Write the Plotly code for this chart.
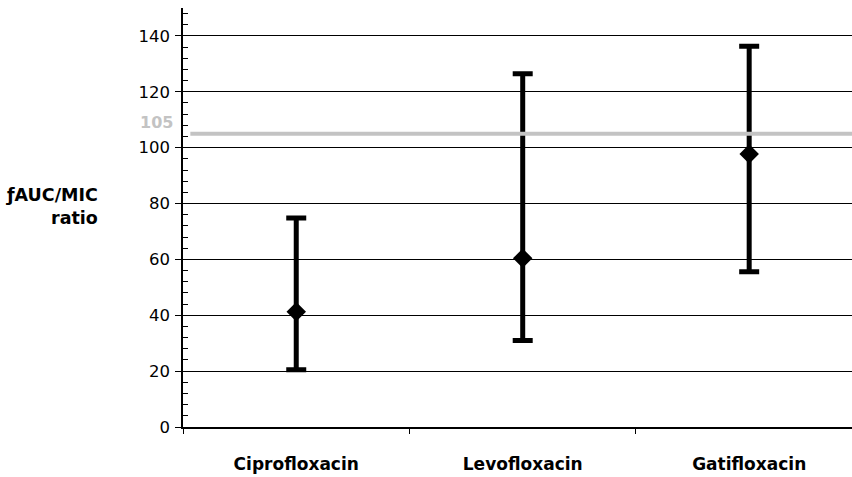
import plotly.graph_objects as go

categories = ["Ciprofloxacin", "Levofloxacin", "Gatifloxacin"]
mean_vals = [41.3, 60.4, 97.7]
upper_vals = [74.8, 126.5, 136.3]
lower_vals = [20.5, 31.0, 55.6]
target_value = 105
y_ticks = [0, 20, 40, 60, 80, 100, 120, 140]

FONT = "DejaVu Sans"

fig = go.Figure()
fig.add_trace(go.Scatter(
    x=categories, y=mean_vals, mode="markers",
    marker=dict(symbol="diamond", size=15, color="black"),
    error_y=dict(type="data", symmetric=False,
                 array=[u - m for u, m in zip(upper_vals, mean_vals)],
                 arrayminus=[m - l for m, l in zip(mean_vals, lower_vals)],
                 color="black", thickness=5, width=10),
    showlegend=False,
))

fig.add_shape(type="line", xref="paper", yref="y", x0=0.011, x1=1,
              y0=target_value, y1=target_value,
              line=dict(color="#c3c3c3", width=4), layer="above")

fig.add_annotation(xref="paper", yref="y", x=0, y=target_value,
                   text=f"<b>{target_value}</b>", showarrow=False,
                   xanchor="right", yanchor="bottom", xshift=-8, yshift=0,
                   font=dict(family=FONT, size=16, color="#c3c3c3"))

fig.add_annotation(xref="paper", yref="paper", x=0, y=0.526,
                   text="<b>ƒAUC/MIC</b><br><b>ratio</b>", showarrow=False,
                   xanchor="right", yanchor="middle", align="right", xshift=-83,
                   font=dict(family=FONT, size=17.5, color="black"))

fig.update_layout(
    width=852, height=477,
    margin=dict(l=183, r=0, t=8, b=50),
    plot_bgcolor="white", paper_bgcolor="white",
    font=dict(family=FONT, color="black"),
    xaxis=dict(
        type="category", range=[-0.5, 2.454], tickson="boundaries",
        ticks="outside", ticklen=5, tickcolor="black",
        showline=True, linecolor="black", linewidth=1.5,
        showgrid=False, zeroline=False, automargin=False,
        tickfont=dict(family=FONT, size=17, color="black"),
        ticklabelstandoff=21,
    ),
    yaxis=dict(
        range=[0, 150], tickvals=y_ticks,
        ticks="outside", ticklen=6, tickcolor="black",
        showline=True, linecolor="black", linewidth=1.5,
        showgrid=True, gridcolor="black", gridwidth=1,
        zeroline=False, automargin=False,
        minor=dict(ticks="inside", dtick=4, ticklen=5, tickcolor="black",
                   tickwidth=1, showgrid=False),
        tickfont=dict(family=FONT, size=16.5, color="black"),
        ticklabelstandoff=2,
    ),
)

fig.update_xaxes(ticktext=[f"<b>{c}</b>" for c in categories], tickvals=categories)

fig.write_html("out.html")
